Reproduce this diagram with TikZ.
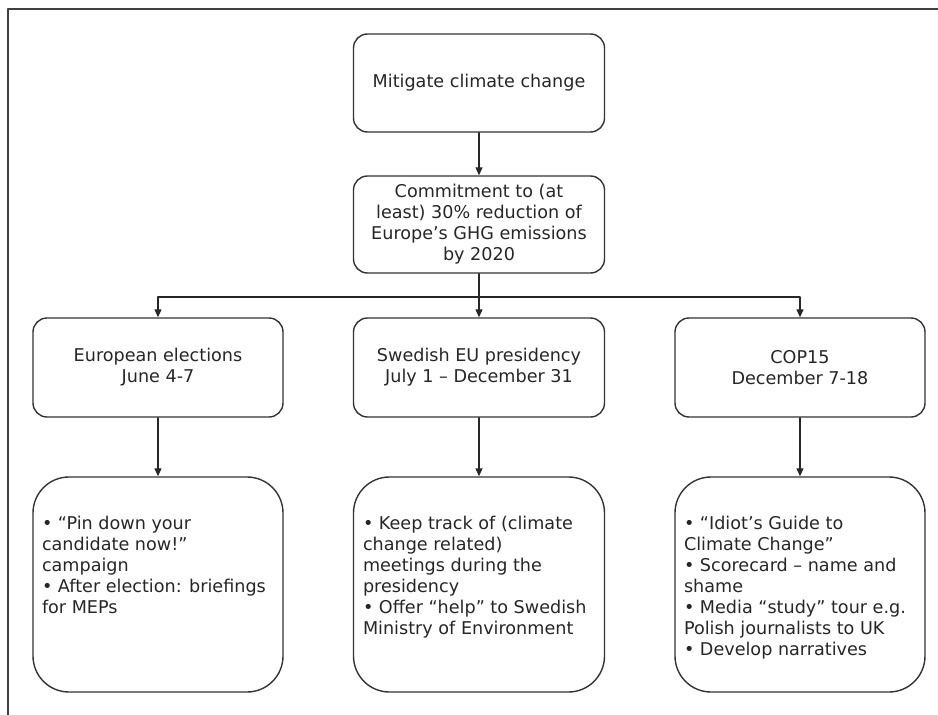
\documentclass[tikz,border=0pt]{standalone}
\usepackage{fontspec}
\setmainfont{DejaVu Sans}
\usetikzlibrary{arrows.meta}

\newcommand\actlist[1]{\parbox[c][136pt][t]{232pt}{\raggedright #1}}

\begin{document}
\begin{tikzpicture}[x=1pt,y=-1pt,line cap=round,line join=round,
  font=\fontsize{17.6}{21}\selectfont,
  topbox/.style={draw=black!80,line width=1.4pt,rounded corners=14pt,minimum width=251pt,
    minimum height=98pt,inner sep=0pt,align=center,text=black!85},
  actbox/.style={topbox,rounded corners=36pt,minimum height=215pt,align=left},
  link/.style={line width=1.2pt,draw=black!85,-{Triangle[length=8pt,width=7pt]}}]
  \useasboundingbox (0,0) rectangle (938,715);
  \draw[line width=2pt,black!75] (7.5,715) -- (7.5,8.5) -- (938,8.5);
  \node[topbox] (goal) at (479,83) {Mitigate climate change};
  \node[topbox,minimum height=97pt] (commit) at (479,224.5)
    {Commitment to (at\\least) 30\% reduction of\\Europe’s GHG emissions\\by 2020};
  \node[topbox,minimum width=250pt,minimum height=99pt] (elec) at (158,367.5)
    {European elections\\June 4-7};
  \node[topbox,minimum height=99pt] (pres) at (479,367.5)
    {Swedish EU presidency\\July 1 – December 31};
  \node[topbox,minimum width=250pt,minimum height=99pt] (cop) at (800,367.5)
    {COP15\\December 7-18};
  \node[actbox,minimum width=250pt] (elecact) at (158,584.5) {\actlist{%
    • “Pin down your\\candidate now!”\\campaign\\
    • After election: briefings\\for MEPs}};
  \node[actbox] (presact) at (479,584.5) {\actlist{%
    • Keep track of (climate\\change related)\\meetings during the\\presidency\\
    • Offer “help” to Swedish\\Ministry of Environment}};
  \node[actbox,minimum width=250pt] (copact) at (800,584.5) {\actlist{%
    • “Idiot’s Guide to\\Climate Change”\\
    • Scorecard – name and\\shame\\
    • Media “study” tour e.g.\\Polish journalists to UK\\
    • Develop narratives}};
  \coordinate (fork) at (479,297);
  \draw[link] (goal) -- (commit);
  \draw[link] (commit) -- (pres);
  \draw[link] (fork) -| (elec);
  \draw[link] (fork) -| (cop);
  \draw[link] (elec) -- (elecact);
  \draw[link] (pres) -- (presact);
  \draw[link] (cop) -- (copact);
\end{tikzpicture}
\end{document}
